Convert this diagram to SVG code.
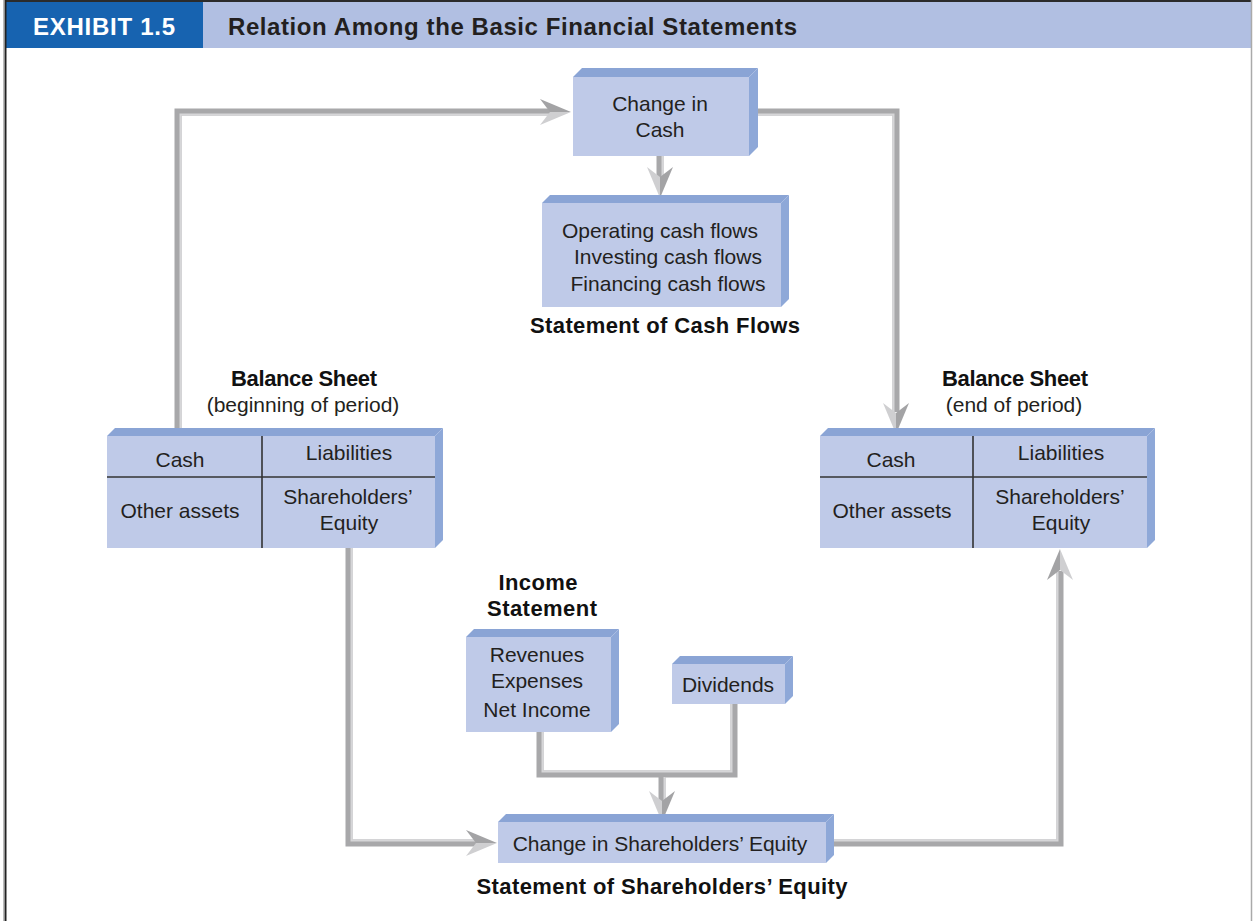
<svg xmlns="http://www.w3.org/2000/svg" width="1253" height="921" viewBox="0 0 1253 921">
<style>
  text { font-family: "Liberation Sans", Arial, sans-serif; fill: #231f20; }
  .t { font-size: 21px; text-anchor: middle; }
  .b { font-size: 22px; font-weight: bold; text-anchor: middle; fill: #111; }
  .front { fill: #bfcae8; }
  .top { fill: #8aa4d5; }
  .side { fill: #8ea8d8; }
  .div { stroke: #333; stroke-width: 1.6; fill: none; }
  .pipe { fill: none; stroke: #a8a8aa; stroke-width: 7; stroke-linejoin: miter; stroke-linecap: butt; }
  .hi { fill: none; stroke: #d6d6d8; stroke-width: 2; stroke-linejoin: miter; }
  .ahD { fill: #a3a3a5; }
  .ahL { fill: #cfcfd1; }
</style>
<defs>
  <g id="arrow">
    <polygon class="ahD" points="0,0 -31,-13 -21,0"/>
    <polygon class="ahL" points="0,0 -21,0 -31,13"/>
  </g>
</defs>
<rect x="0" y="0" width="1253" height="921" fill="#ffffff"/>
<g id="header">
  <rect x="5" y="1" width="1246" height="47" fill="#b1bfe2"/>
  <rect x="5" y="1" width="198" height="47" fill="#1763b0"/>
  <line x1="5" y1="1" x2="1251" y2="1" stroke="#2b2b2b" stroke-width="2"/>
  <line x1="5.5" y1="0" x2="5.5" y2="921" stroke="#222" stroke-width="2"/>
  <line x1="3.5" y1="0" x2="3.5" y2="921" stroke="#bbb" stroke-width="1"/>
  <line x1="1251.5" y1="0" x2="1251.5" y2="921" stroke="#aaa" stroke-width="1.5"/>
  <text x="104" y="35" text-anchor="middle" font-size="24" font-weight="bold" style="fill:#ffffff" textLength="142">EXHIBIT 1.5</text>
  <text x="228" y="35" font-size="24" textLength="569" style="fill:#231f20;font-weight:bold">Relation Among the Basic Financial Statements</text>
</g>
<g id="connectors">
  <path class="pipe" d="M178 436 V112 H551"/>
  <path class="hi" d="M180.5 436 V114.5 H551" />
  <use href="#arrow" transform="translate(571,112)"/>

  <path class="pipe" d="M749 112 H896 V412"/>
  <path class="hi" d="M749 114.5 H893.5 V412"/>
  <use href="#arrow" transform="translate(896,434) rotate(90)"/>

  <path class="pipe" d="M660 156 V178"/>
  <path class="hi" d="M662.5 156 V178"/>
  <use href="#arrow" transform="translate(660,198) rotate(90)"/>

  <path class="pipe" d="M349 548 V843 H476"/>
  <path class="hi" d="M351.5 548 V840.5 H476"/>
  <use href="#arrow" transform="translate(497,843)"/>

  <path class="pipe" d="M540 732 V774 H734 V704"/>
  <path class="hi" d="M542.5 732 V771.5 H731.5 V704"/>
  <path class="pipe" d="M662 774 V801"/>
  <path class="hi" d="M664.5 777 V801"/>
  <use href="#arrow" transform="translate(662,822) rotate(90)"/>

  <path class="pipe" d="M834 843 H1060 V571"/>
  <path class="hi" d="M834 840.5 H1057.5 V571"/>
  <use href="#arrow" transform="translate(1060,549) rotate(-90)"/>
</g>
<g id="node-change-cash">
  <polygon class="top" points="573,77 582,68 758,68 749,77"/>
  <polygon class="side" points="749,77 758,68 758,147 749,156"/>
  <rect class="front" x="573" y="77" width="176" height="79"/>
  <text class="t" x="660" y="111">Change in</text>
  <text class="t" x="660" y="137">Cash</text>
</g>
<g id="node-cash-flows">
  <polygon class="top" points="542,203 550,195 789,195 781,203"/>
  <polygon class="side" points="781,203 789,195 789,299 781,307"/>
  <rect class="front" x="542" y="203" width="239" height="104"/>
  <text class="t" x="660" y="238">Operating cash flows</text>
  <text class="t" x="668" y="264">Investing cash flows</text>
  <text class="t" x="668" y="291">Financing cash flows</text>
  <text class="b" x="665" y="333" textLength="270">Statement of Cash Flows</text>
</g>
<g id="node-bs-begin">
  <text class="b" x="304" y="386" textLength="146">Balance Sheet</text>
  <text class="t" x="303" y="412">(beginning of period)</text>
  <polygon class="top" points="107,436 115,428 443,428 435,436"/>
  <polygon class="side" points="435,436 443,428 443,540 435,548"/>
  <rect class="front" x="107" y="436" width="328" height="112"/>
  <line class="div" x1="262" y1="436" x2="262" y2="548"/>
  <line class="div" x1="107" y1="477" x2="435" y2="477"/>
  <text class="t" x="180" y="467">Cash</text>
  <text class="t" x="349" y="460">Liabilities</text>
  <text class="t" x="180" y="518">Other assets</text>
  <text class="t" x="348" y="504">Shareholders’</text>
  <text class="t" x="349" y="530">Equity</text>
</g>
<g id="node-bs-end">
  <text class="b" x="1015" y="386" textLength="146">Balance Sheet</text>
  <text class="t" x="1014" y="412">(end of period)</text>
  <polygon class="top" points="820,436 828,428 1155,428 1147,436"/>
  <polygon class="side" points="1147,436 1155,428 1155,540 1147,548"/>
  <rect class="front" x="820" y="436" width="327" height="112"/>
  <line class="div" x1="973" y1="436" x2="973" y2="548"/>
  <line class="div" x1="820" y1="477" x2="1147" y2="477"/>
  <text class="t" x="891" y="467">Cash</text>
  <text class="t" x="1061" y="460">Liabilities</text>
  <text class="t" x="892" y="518">Other assets</text>
  <text class="t" x="1060" y="504">Shareholders’</text>
  <text class="t" x="1061" y="530">Equity</text>
</g>
<g id="node-income">
  <text class="b" x="538" y="590" textLength="79">Income</text>
  <text class="b" x="542" y="616" textLength="110">Statement</text>
  <polygon class="top" points="466,637 474,629 619,629 611,637"/>
  <polygon class="side" points="611,637 619,629 619,724 611,732"/>
  <rect class="front" x="466" y="637" width="145" height="95"/>
  <text class="t" x="537" y="662">Revenues</text>
  <text class="t" x="537" y="688">Expenses</text>
  <text class="t" x="537" y="717">Net Income</text>
</g>
<g id="node-dividends">
  <polygon class="top" points="672,664 680,656 793,656 785,664"/>
  <polygon class="side" points="785,664 793,656 793,696 785,704"/>
  <rect class="front" x="672" y="664" width="113" height="40"/>
  <text class="t" x="728" y="692">Dividends</text>
</g>
<g id="node-change-se">
  <polygon class="top" points="498,822 506,814 834,814 826,822"/>
  <polygon class="side" points="826,822 834,814 834,855 826,863"/>
  <rect class="front" x="498" y="822" width="328" height="41"/>
  <text class="t" x="660" y="851">Change in Shareholders’ Equity</text>
  <text class="b" x="662" y="894" textLength="371">Statement of Shareholders’ Equity</text>
</g>
</svg>
